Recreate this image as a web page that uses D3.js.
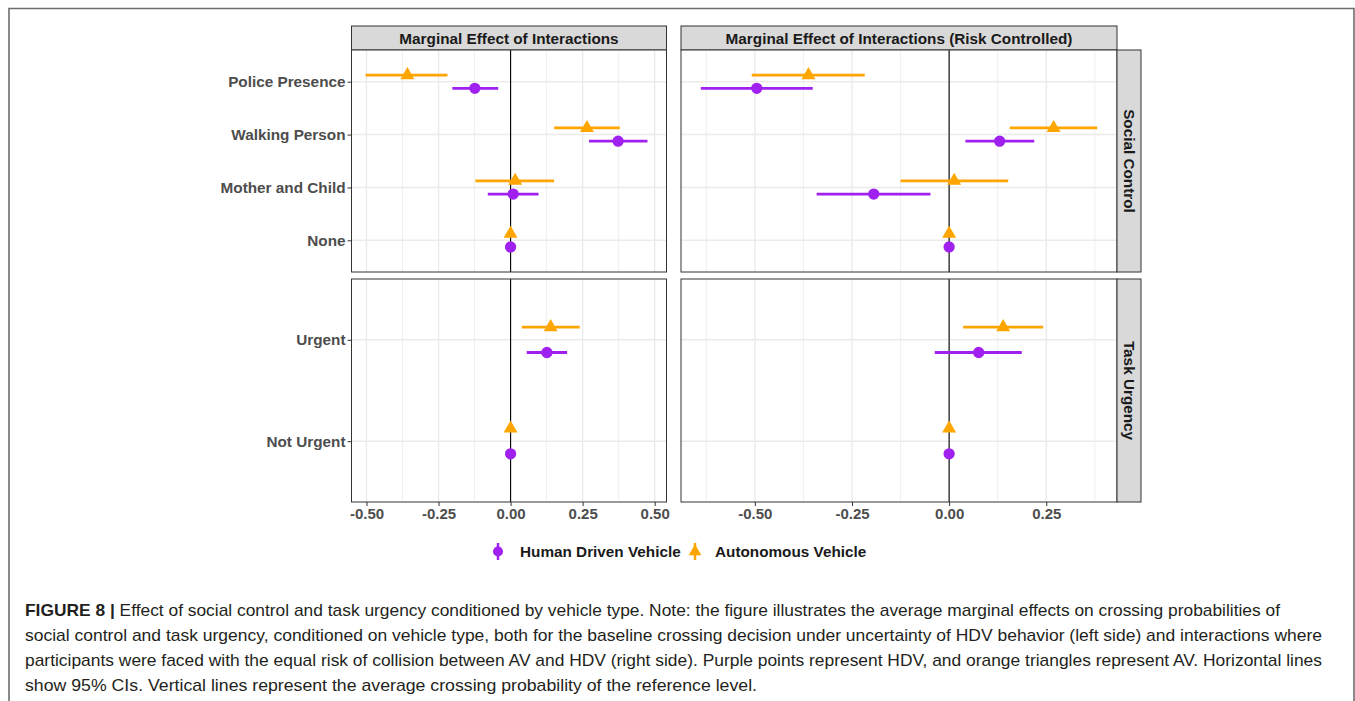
<!DOCTYPE html>
<html>
<head>
<meta charset="utf-8">
<script src="https://cdn.jsdelivr.net/npm/d3@7"></script>
<style>
  body { margin: 0; background: #fff; }
  svg { display: block; font-family: "Liberation Sans", Arial, sans-serif; }
  .tick text { font-weight: bold; fill: #4d4d4d; font-size: 15px; }
  .tick line { stroke: #333; }
</style>
</head>
<body>
<svg id="chart" width="1355" height="701"></svg>
<script>
// factor levels, top to bottom
const socialLevels = ["Police Presence", "Walking Person", "Mother and Child", "None"];
const urgencyLevels = ["Urgent", "Not Urgent"];
const levels = socialLevels.concat(urgencyLevels);
const panelNames = ["Marginal Effect of Interactions", "Marginal Effect of Interactions (Risk Controlled)"];
const rowNames = ["Social Control", "Task Urgency"];
const vehicles = ["Human Driven Vehicle", "Autonomous Vehicle"];

// baseline (left) estimates and 95% CIs, in levels order
const hdvEst = [-0.124, 0.373, 0.009, 0, 0.126, 0];
const hdvLo  = [-0.202, 0.272, -0.079, 0, 0.056, 0];
const hdvHi  = [-0.043, 0.475, 0.097, 0, 0.196, 0];
const avEst  = [-0.358, 0.265, 0.016, 0, 0.139, 0];
const avLo   = [-0.503, 0.151, -0.122, 0, 0.039, 0];
const avHi   = [-0.219, 0.379, 0.151, 0, 0.240, 0];

// risk controlled (right)
const hdvEstRisk = [-0.495, 0.130, -0.194, 0, 0.076, 0];
const hdvLoRisk  = [-0.639, 0.042, -0.341, 0, -0.037, 0];
const hdvHiRisk  = [-0.351, 0.219, -0.048, 0, 0.187, 0];
const avEstRisk  = [-0.362, 0.269, 0.013, 0, 0.139, 0];
const avLoRisk   = [-0.508, 0.156, -0.125, 0, 0.036, 0];
const avHiRisk   = [-0.217, 0.381, 0.152, 0, 0.242, 0];

const leftTicks = [-0.50, -0.25, 0.00, 0.25, 0.50];
const rightTicks = [-0.50, -0.25, 0.00, 0.25];

const COLORS = {"Human Driven Vehicle": "#A020F0", "Autonomous Vehicle": "#FFA500"};
const LABEL_SIZE = 15.3;

const COLS = [
  {x0: 351.5, x1: 666.5, domain: [-0.552, 0.541], ticks: leftTicks},
  {x0: 681, x1: 1117, domain: [-0.690, 0.432], ticks: rightTicks}
];
const ROWS = [
  {y0: 50, y1: 272, levels: socialLevels},
  {y0: 279, y1: 502, levels: urgencyLevels}
];
const STRIP_TOP = 26, STRIP_W = 24;

function buildRows(est, lo, hi, vehicle) {
  return levels.map((lv, i) => ({level: lv, vehicle: vehicle, est: est[i], lo: lo[i], hi: hi[i]}));
}
const panelData = [
  buildRows(hdvEst, hdvLo, hdvHi, vehicles[0]).concat(buildRows(avEst, avLo, avHi, vehicles[1])),
  buildRows(hdvEstRisk, hdvLoRisk, hdvHiRisk, vehicles[0]).concat(buildRows(avEstRisk, avLoRisk, avHiRisk, vehicles[1]))
];

const svg = d3.select("#chart");
svg.append("rect").attr("width", 1355).attr("height", 701).attr("fill", "#fff");

// outer frame of the figure
svg.append("path")
  .attr("d", "M9,702V8.5H1354V702")
  .attr("fill", "none").attr("stroke", "#6e6e6e").attr("stroke-width", 1.6);

COLS.forEach((col, ci) => {
  const x = d3.scaleLinear().domain(col.domain).range([col.x0, col.x1]);

  // top strip
  svg.append("rect")
    .attr("x", col.x0).attr("y", STRIP_TOP)
    .attr("width", col.x1 - col.x0).attr("height", ROWS[0].y0 - STRIP_TOP)
    .attr("fill", "#d9d9d9").attr("stroke", "#333").attr("stroke-width", 1);
  svg.append("text")
    .attr("x", (col.x0 + col.x1) / 2).attr("y", (STRIP_TOP + ROWS[0].y0) / 2 + 5.5)
    .attr("text-anchor", "middle")
    .attr("font-weight", "bold").attr("font-size", LABEL_SIZE).attr("fill", "#1a1a1a")
    .text(panelNames[ci]);

  ROWS.forEach((row, ri) => {
    const y = d3.scalePoint().domain(row.levels).range([row.y0, row.y1]).padding(0.6);
    const dodge = y.step() * 0.125;
    const g = svg.append("g");

    g.append("rect")
      .attr("x", col.x0).attr("y", row.y0)
      .attr("width", col.x1 - col.x0).attr("height", row.y1 - row.y0)
      .attr("fill", "#fff");

    // minor grid
    const minor = d3.range(-0.875, 0.9, 0.25).filter(v => v > col.domain[0] && v < col.domain[1]);
    g.selectAll(".minor").data(minor).join("line")
      .attr("x1", d => x(d)).attr("x2", d => x(d))
      .attr("y1", row.y0).attr("y2", row.y1)
      .attr("stroke", "#ebebeb").attr("stroke-width", 0.8);
    // major grid
    g.selectAll(".majorx").data(col.ticks).join("line")
      .attr("x1", d => x(d)).attr("x2", d => x(d))
      .attr("y1", row.y0).attr("y2", row.y1)
      .attr("stroke", "#ebebeb").attr("stroke-width", 1.4);
    g.selectAll(".majory").data(row.levels).join("line")
      .attr("x1", col.x0).attr("x2", col.x1)
      .attr("y1", d => y(d)).attr("y2", d => y(d))
      .attr("stroke", "#ebebeb").attr("stroke-width", 1.4);

    // reference line
    g.append("line")
      .attr("x1", x(0)).attr("x2", x(0))
      .attr("y1", row.y0).attr("y2", row.y1)
      .attr("stroke", "#000").attr("stroke-width", 1.1);

    const rows = panelData[ci].filter(d => row.levels.includes(d.level));
    const yPos = d => y(d.level) + (d.vehicle === vehicles[0] ? dodge : -dodge);

    g.selectAll(".ci").data(rows.filter(d => d.hi > d.lo)).join("line")
      .attr("x1", d => x(d.lo)).attr("x2", d => x(d.hi))
      .attr("y1", yPos).attr("y2", yPos)
      .attr("stroke", d => COLORS[d.vehicle]).attr("stroke-width", 2.8);

    g.selectAll(".pt").data(rows).join("path")
      .attr("transform", d => `translate(${x(d.est)},${yPos(d)})`)
      .attr("d", d => d.vehicle === vehicles[0]
        ? d3.symbol(d3.symbolCircle, 100)()
        : d3.symbol(d3.symbolTriangle, 84)())
      .attr("fill", d => COLORS[d.vehicle]);

    // panel border
    g.append("rect")
      .attr("x", col.x0).attr("y", row.y0)
      .attr("width", col.x1 - col.x0).attr("height", row.y1 - row.y0)
      .attr("fill", "none").attr("stroke", "#333").attr("stroke-width", 1);

    if (ci === 0) {
      const ya = svg.append("g")
        .attr("transform", `translate(${col.x0},0)`)
        .call(d3.axisLeft(y).tickSize(4).tickPadding(2));
      ya.select(".domain").remove();
      ya.selectAll(".tick text").style("font-size", LABEL_SIZE + "px");
    }
    if (ri === ROWS.length - 1) {
      const xa = svg.append("g")
        .attr("transform", `translate(0,${row.y1})`)
        .call(d3.axisBottom(x).tickValues(col.ticks).tickFormat(d => d.toFixed(2)).tickSize(4).tickPadding(2));
      xa.select(".domain").remove();
    }

    // right strips
    if (ci === COLS.length - 1) {
      svg.append("rect")
        .attr("x", col.x1).attr("y", row.y0)
        .attr("width", STRIP_W).attr("height", row.y1 - row.y0)
        .attr("fill", "#d9d9d9").attr("stroke", "#333").attr("stroke-width", 1);
      const cx = col.x1 + STRIP_W / 2, cy = (row.y0 + row.y1) / 2;
      svg.append("text")
        .attr("transform", `translate(${cx - 5.5},${cy}) rotate(90)`)
        .attr("text-anchor", "middle")
        .attr("font-weight", "bold").attr("font-size", LABEL_SIZE).attr("fill", "#1a1a1a")
        .text(rowNames[ri]);
    }
  });
});

// legend
const legendItems = [
  {name: vehicles[0], kx: 498, tx: 520},
  {name: vehicles[1], kx: 695, tx: 715}
];
const LEG_Y = 551.5;
legendItems.forEach(it => {
  svg.append("line")
    .attr("x1", it.kx).attr("x2", it.kx)
    .attr("y1", LEG_Y - 8.5).attr("y2", LEG_Y + 8.5)
    .attr("stroke", COLORS[it.name]).attr("stroke-width", 2.5);
  svg.append("path")
    .attr("transform", `translate(${it.kx},${LEG_Y})`)
    .attr("d", it.name === vehicles[0] ? d3.symbol(d3.symbolCircle, 80)() : d3.symbol(d3.symbolTriangle, 70)())
    .attr("fill", COLORS[it.name]);
  svg.append("text")
    .attr("x", it.tx).attr("y", LEG_Y + 5.5)
    .attr("font-weight", "bold").attr("font-size", LABEL_SIZE).attr("fill", "#1a1a1a")
    .text(it.name);
});

// caption
const captionLines = [
  "Effect of social control and task urgency conditioned by vehicle type. Note: the figure illustrates the average marginal effects on crossing probabilities of",
  "social control and task urgency, conditioned on vehicle type, both for the baseline crossing decision under uncertainty of HDV behavior (left side) and interactions where",
  "participants were faced with the equal risk of collision between AV and HDV (right side). Purple points represent HDV, and orange triangles represent AV. Horizontal lines",
  "show 95% CIs. Vertical lines represent the average crossing probability of the reference level."
];
const lineEnds = [1280, 1322, 1322, 757];
captionLines.forEach((t, i) => {
  const txt = svg.append("text")
    .attr("x", 25).attr("y", 616 + i * 25)
    .attr("font-size", 17).attr("fill", "#231f20")
    .attr("textLength", lineEnds[i] - 25).attr("lengthAdjust", "spacingAndGlyphs");
  if (i === 0) {
    txt.append("tspan").attr("font-weight", "bold").text("FIGURE 8 | ");
    txt.append("tspan").text(t);
  } else {
    txt.text(t);
  }
});
</script>
</body>
</html>
